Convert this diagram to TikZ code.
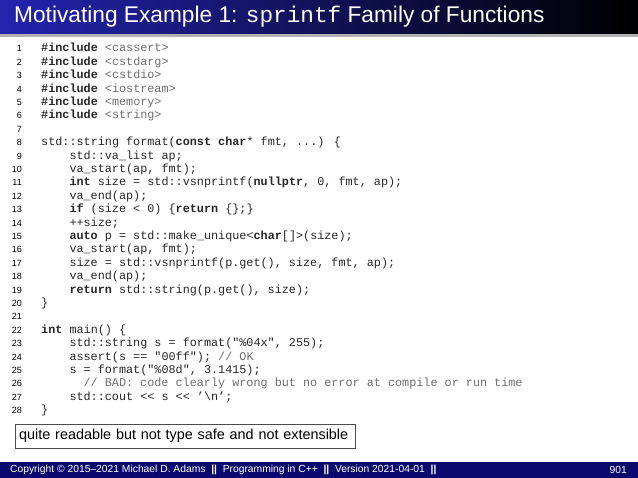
\documentclass[tikz,border=0pt]{standalone}
\usepackage{fontspec}
\setmainfont{Liberation Sans}
\newfontfamily\cd{Liberation Mono}
\definecolor{tbl}{RGB}{35,35,175}
\definecolor{fbl}{RGB}{10,10,110}
\definecolor{hdr}{RGB}{110,110,110}
\begin{document}
\begin{tikzpicture}[x=1pt,y=-1pt,
  ln/.style={anchor=base east,font=\fontsize{9}{10}\selectfont,inner sep=0pt},
  cl/.style={anchor=base west,font=\cd\fontsize{11.8}{13}\selectfont,inner sep=0pt,text=black!85}]
\useasboundingbox (0,0) rectangle (638,478);
\shade[left color=tbl,right color=black] (0,0) rectangle (638,34);
\fill[black!30] (0,34) rectangle (638,37);
\node[anchor=west,text=white,font=\fontsize{22.7}{26}\selectfont,inner sep=0pt] (title) at (14,17)
  {Motivating Example 1: {\cd sprintf} Family of Functions};
\newcommand\K[1]{\textbf{#1}}
\newcommand\G[1]{\textcolor{hdr}{#1}}
\foreach \n in {1,...,28} \node[ln] (n\n) at (22,{52+(\n-1)*13.4}) {\n};
\node[cl] (c1) at (41,52) {\K{\#include} \G{<cassert>}};
\node[cl] (c2) at (41,65.4) {\K{\#include} \G{<cstdarg>}};
\node[cl] (c3) at (41,78.8) {\K{\#include} \G{<cstdio>}};
\node[cl] (c4) at (41,92.2) {\K{\#include} \G{<iostream>}};
\node[cl] (c5) at (41,105.6) {\K{\#include} \G{<memory>}};
\node[cl] (c6) at (41,119) {\K{\#include} \G{<string>}};
\node[cl] (c8) at (41,145.8) {std::string format(\K{const} \K{char}* fmt, ...) \{};
\node[cl] (c9) at (69.3,159.2) {std::va\_list ap;};
\node[cl] (c10) at (69.3,172.6) {va\_start(ap, fmt);};
\node[cl] (c11) at (69.3,186) {\K{int} size = std::vsnprintf(\K{nullptr}, 0, fmt, ap);};
\node[cl] (c12) at (69.3,199.4) {va\_end(ap);};
\node[cl] (c13) at (69.3,212.8) {\K{if} (size < 0) \{\K{return} \{\};\}};
\node[cl] (c14) at (69.3,226.2) {++size;};
\node[cl] (c15) at (69.3,239.6) {\K{auto} p = std::make\_unique<\K{char}[]>(size);};
\node[cl] (c16) at (69.3,253) {va\_start(ap, fmt);};
\node[cl] (c17) at (69.3,266.4) {size = std::vsnprintf(p.get(), size, fmt, ap);};
\node[cl] (c18) at (69.3,279.8) {va\_end(ap);};
\node[cl] (c19) at (69.3,293.2) {\K{return} std::string(p.get(), size);};
\node[cl] (c20) at (41,306.6) {\}};
\node[cl] (c22) at (41,333.4) {\K{int} main() \{};
\node[cl] (c23) at (69.3,346.8) {std::string s = format("\%04x", 255);};
\node[cl] (c24) at (69.3,360.2) {assert(s == "00ff"); \G{// OK}};
\node[cl] (c25) at (69.3,373.6) {s = format("\%08d", 3.1415);};
\node[cl] (c26) at (83.4,387) {\G{// BAD: code clearly wrong but no error at compile or run time}};
\node[cl] (c27) at (69.3,400.4) {std::cout << s << ’\textbackslash n’;};
\node[cl] (c28) at (41,413.8) {\}};
\node[draw=black!70,anchor=west,minimum width=340,minimum height=24,text width=332,inner xsep=4,
  font=\fontsize{14.4}{16}\selectfont] (note) at (15,436) {quite readable but not type safe and not extensible};
\fill[fbl] (0,462) rectangle (638,478);
\node[anchor=west,text=white,font=\fontsize{10.3}{11}\selectfont,inner sep=0pt] (foot) at (10,470)
  {Copyright \textcopyright\ 2015--2021 Michael D. Adams \ \textbf{||}\ \ Programming in C++ \ \textbf{||}\ \ Version 2021-04-01 \ \textbf{||}};
\node[anchor=east,text=white,font=\fontsize{10.3}{11}\selectfont,inner sep=0pt] (pg) at (627,470) {901};
\end{tikzpicture}
\end{document}
